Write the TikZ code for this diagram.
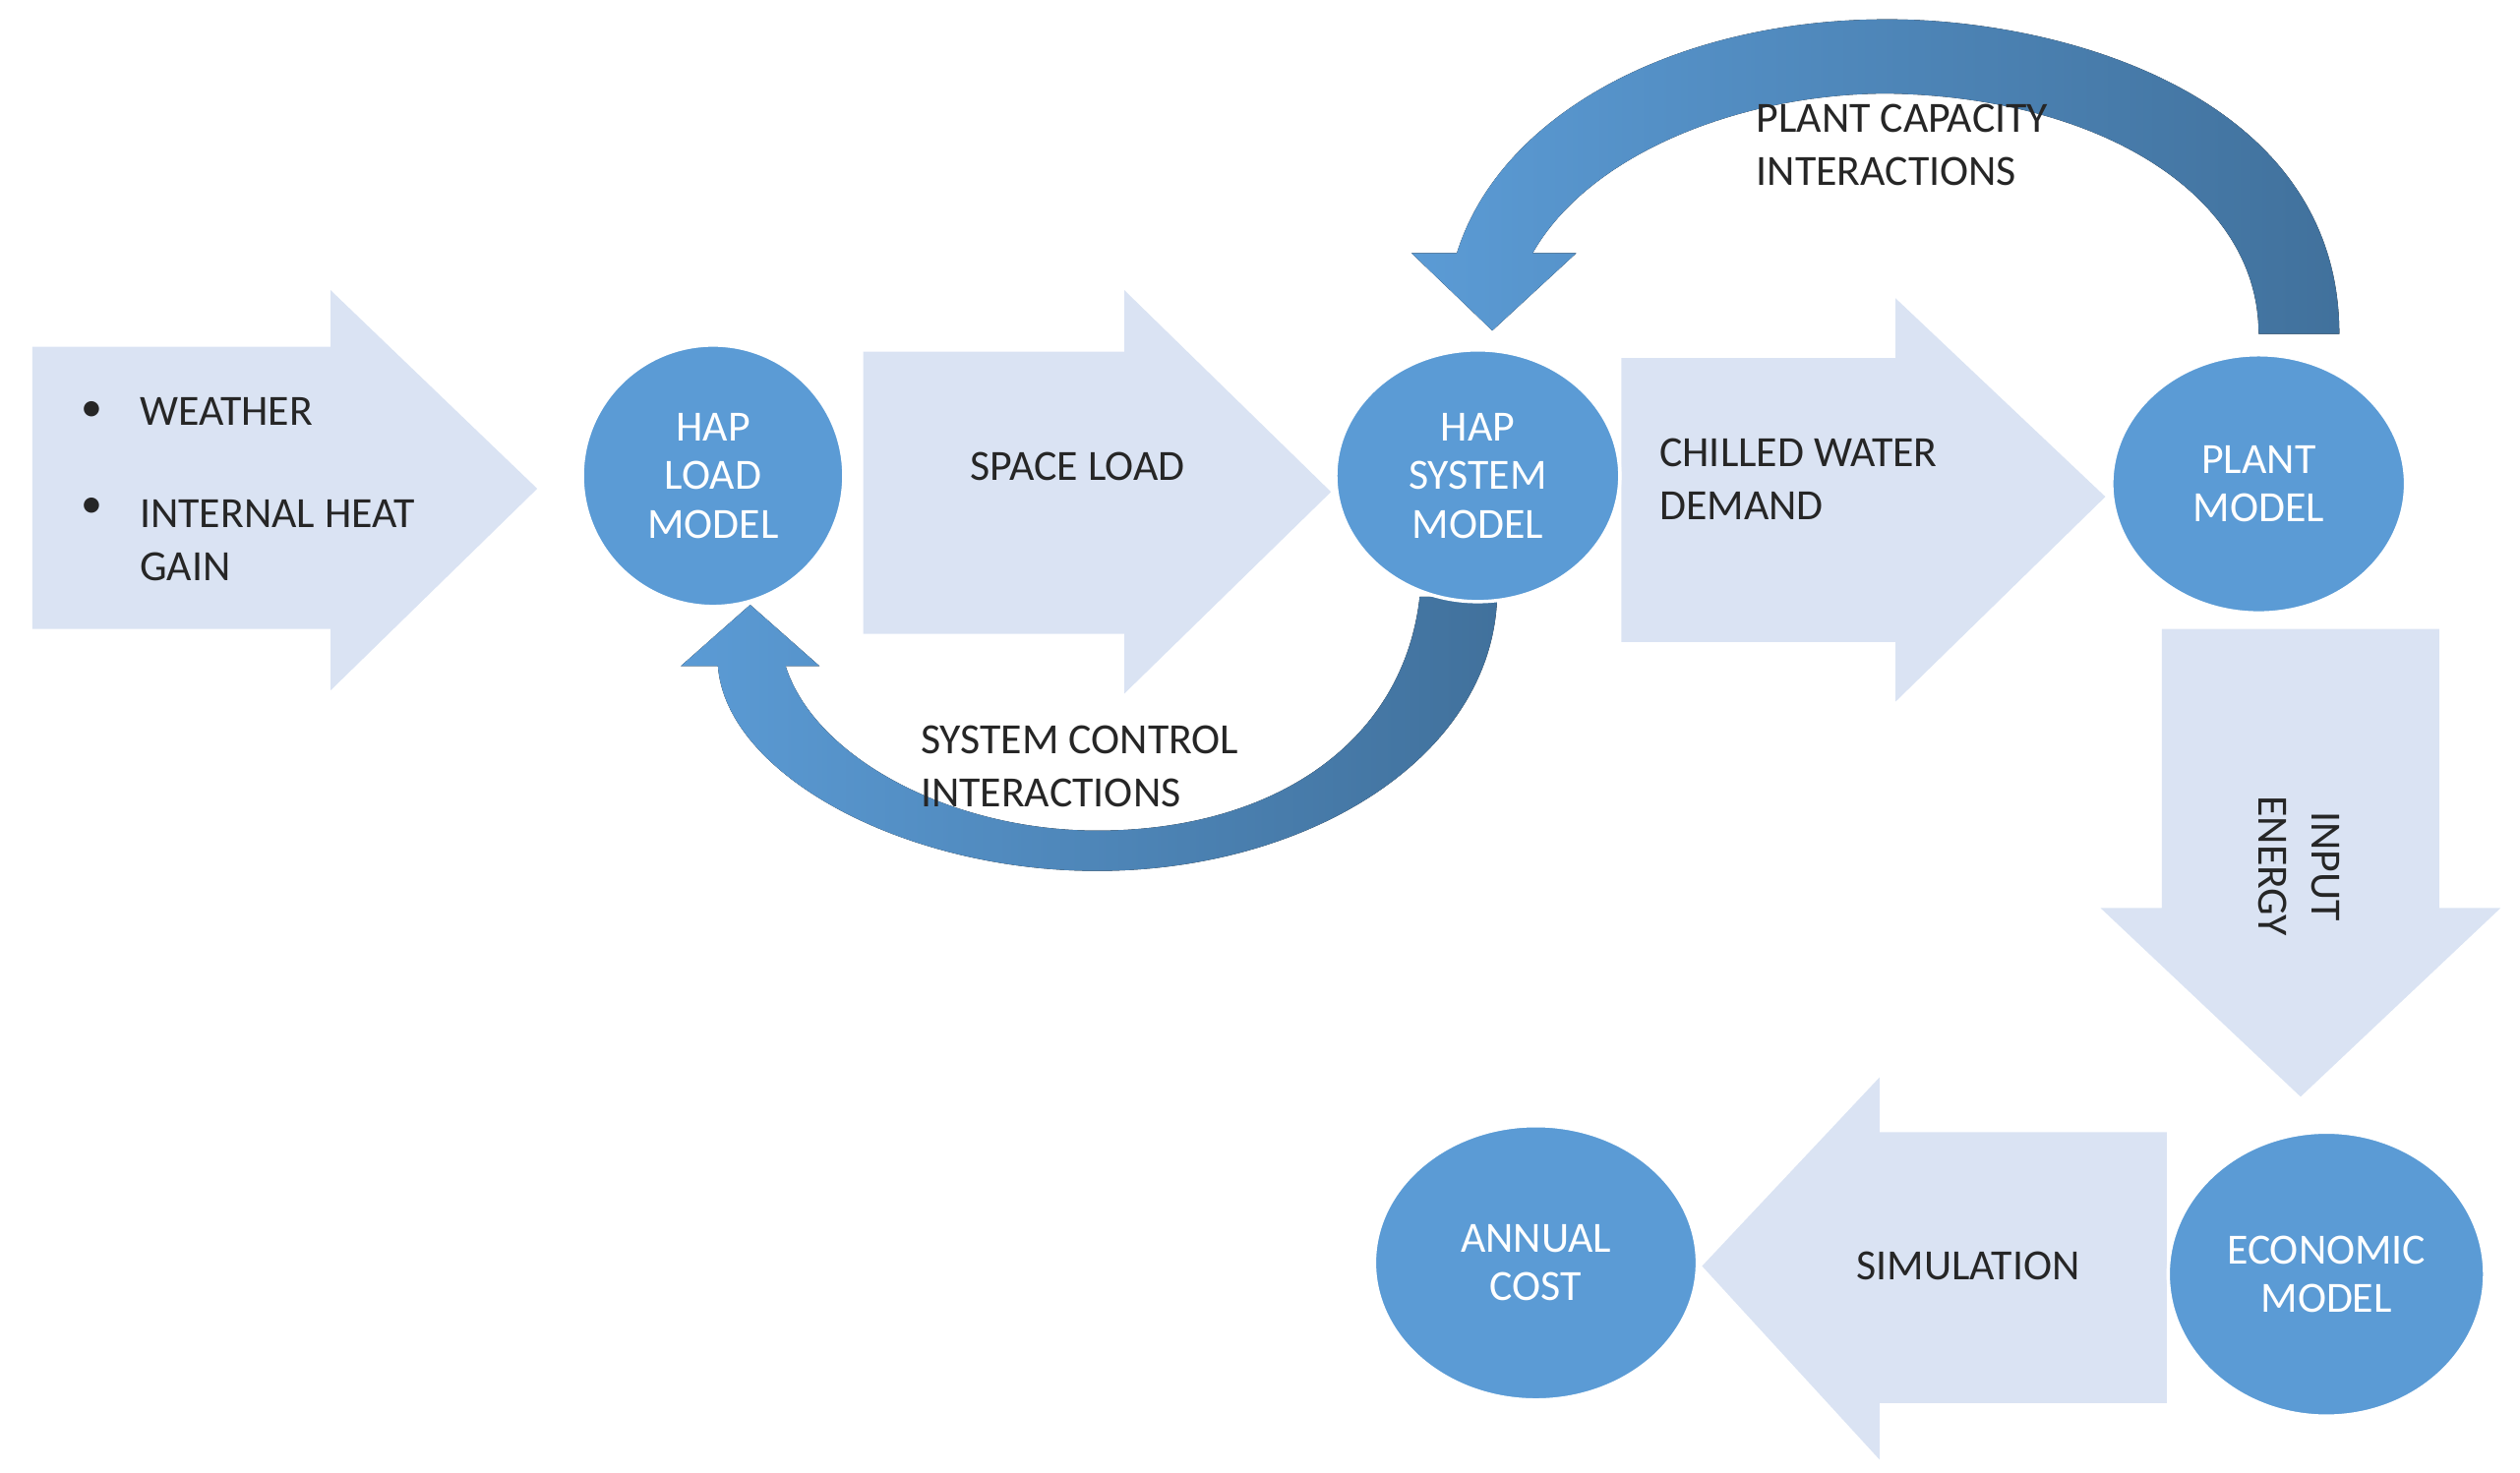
\documentclass[tikz,border=0pt]{standalone}
\usepackage{fontspec}
\setmainfont{Carlito}
\usetikzlibrary{shapes.geometric}
\definecolor{pale}{HTML}{DAE3F3}
\definecolor{blu}{HTML}{5B9BD5}
\definecolor{dblu}{HTML}{41719C}
\tikzset{
  big/.style={fill=pale,draw=none},
  disc/.style={ellipse,fill=blu,draw=white,line width=0.6pt,text=white,align=center,
    font=\fontsize{7.6}{8.6}\selectfont,inner sep=0pt},
  lbl/.style={font=\fontsize{7.6}{9.4}\selectfont,text=black!85,inner sep=0pt}
}
\begin{document}
\begin{tikzpicture}[x=0.01cm,y=-0.01cm]
\useasboundingbox (0,0) rectangle (1562,913);
% flat arrows
\fill[big] (20,215) -- (205,215) -- (205,180) -- (333,303) -- (205,428) -- (205,390) -- (20,390) -- cycle;
\fill[big] (535,218) -- (697,218) -- (697,180) -- (825,305) -- (697,430) -- (697,393) -- (535,393) -- cycle;
\fill[big] (1005,222) -- (1175,222) -- (1175,185) -- (1305,308) -- (1175,435) -- (1175,398) -- (1005,398) -- cycle;
\fill[big] (1340,390) -- (1512,390) -- (1512,563) -- (1550,563) -- (1426,680) -- (1302,563) -- (1340,563) -- cycle;
\fill[big] (1343,702) -- (1165,702) -- (1165,668) -- (1055,785) -- (1165,905) -- (1165,870) -- (1343,870) -- cycle;
% curved arrows
\fill[left color=blu,right color=dblu] (1400,207) -- (1450,207)
  .. controls (1450,60) and (1280,12) .. (1170,12)
  .. controls (1040,12) and (930,70) .. (903,157) -- (875,157) -- (925,205) -- (977,157) -- (950,157)
  .. controls (985,95) and (1080,58) .. (1170,58)
  .. controls (1300,60) and (1400,120) .. (1400,207) -- cycle;
\fill[left color=blu,right color=dblu] (880,370) -- (928,370)
  .. controls (925,470) and (810,540) .. (680,540)
  .. controls (560,540) and (450,480) .. (445,413) -- (422,413) -- (465,375) -- (508,413) -- (487,413)
  .. controls (505,470) and (590,515) .. (680,515)
  .. controls (790,515) and (870,460) .. (880,370) -- cycle;
% model nodes
\node[disc,minimum width=1.62cm,minimum height=1.62cm] (load) at (442,295) {HAP\\LOAD\\MODEL};
\node[disc,minimum width=1.76cm,minimum height=1.56cm] (sys) at (916,295) {HAP\\SYSTEM\\MODEL};
\node[disc,minimum width=1.82cm,minimum height=1.6cm] (plant) at (1400,300) {PLANT\\MODEL};
\node[disc,minimum width=1.96cm,minimum height=1.76cm] (econ) at (1442,790) {ECONOMIC\\MODEL};
\node[disc,minimum width=2cm,minimum height=1.7cm] (cost) at (952,783) {ANNUAL\\COST};
% labels
\node[lbl] (b1) at (57,255) {\textbullet};
\node[lbl,anchor=west] (w) at (86,255) {WEATHER};
\node[lbl] (b2) at (57,315) {\textbullet};
\node[lbl,anchor=north west] (ih) at (86,303) {\begin{tabular}{@{}l@{}}INTERNAL HEAT\\GAIN\end{tabular}};
\node[lbl] (sl) at (668,289) {SPACE LOAD};
\node[lbl,anchor=west,align=left] (cw) at (1028,297) {CHILLED WATER\\DEMAND};
\node[lbl,anchor=west,align=left] (pc) at (1088,90) {PLANT CAPACITY\\INTERACTIONS};
\node[lbl,anchor=west,align=left] (sc) at (570,475) {SYSTEM CONTROL\\INTERACTIONS};
\node[lbl,rotate=-90,align=center] (ie) at (1425,537) {INPUT\\ENERGY};
\node[lbl] (sim) at (1220,785) {SIMULATION};
\end{tikzpicture}
\end{document}
